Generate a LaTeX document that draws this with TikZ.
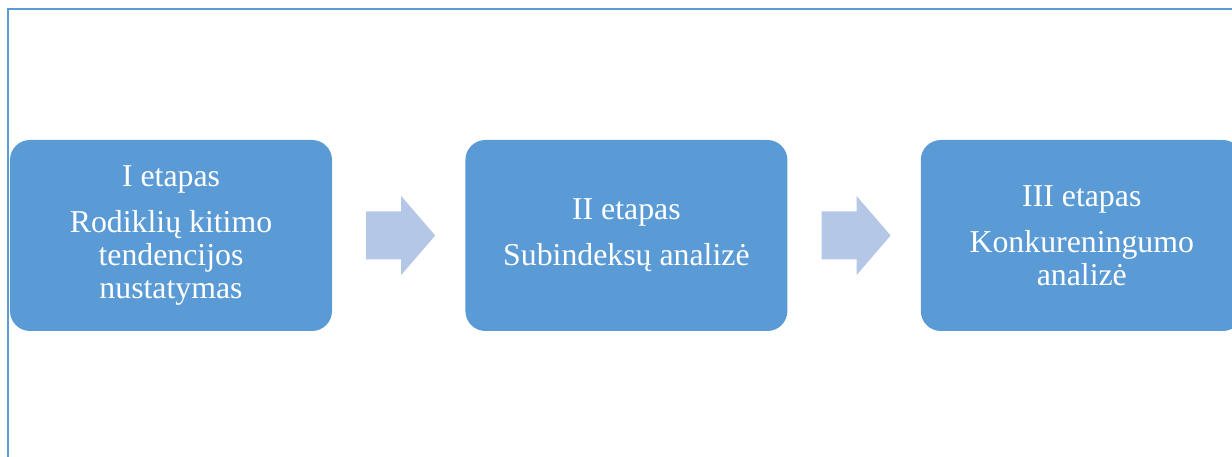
\documentclass[tikz,border=0pt]{standalone}
\usepackage{fontspec}
\setmainfont{Liberation Serif}
\usepackage{tikz}
\usetikzlibrary{positioning,calc}
\definecolor{boxblue}{HTML}{5B9BD5}
\definecolor{arrowblue}{HTML}{B4C7E7}

\begin{document}
\begin{tikzpicture}[x=1pt,y=1pt,
    stage/.style={fill=boxblue, rounded corners=20pt, minimum width=322pt,
      minimum height=191pt, inner sep=0pt, text=white, align=center,
      font=\fontsize{31.8}{33}\selectfont},
    blockarrow/.style={fill=arrowblue, draw=none}]
    \useasboundingbox (0,0) rectangle (1232,457);
    % Draw the frame
    \draw[boxblue, line width=2.4pt] (8,0) -- (8,448) -- (1232,448);
    % Draw the stages
    \node[stage] (s1) at (171,221.5) {I etapas\\[13pt]Rodiklių kitimo\\tendencijos\\nustatymas};
    \node[stage, right=133pt of s1] (s2) {II etapas\\[13pt]Subindeksų analizė};
    \node[stage, right=133pt of s2] (s3) {III etapas\\[13pt]Konkureningumo\\analizė};
    % Draw the arrows between the stages
    \foreach \a/\b in {s1/s2, s2/s3}{
      \coordinate (m) at ($(\a.east)!0.5!(\b.west)+(2,0)$);
      \fill[blockarrow] ($(m)+(-34.5,24)$) -- ++(35,0) -- ++(0,15.5)
        -- ($(m)+(34.5,0)$) -- ($(m)+(0.5,-39.5)$) -- ++(0,15.5)
        -- ($(m)+(-34.5,-24)$) -- cycle;
    }
  \end{tikzpicture}
\end{document}
